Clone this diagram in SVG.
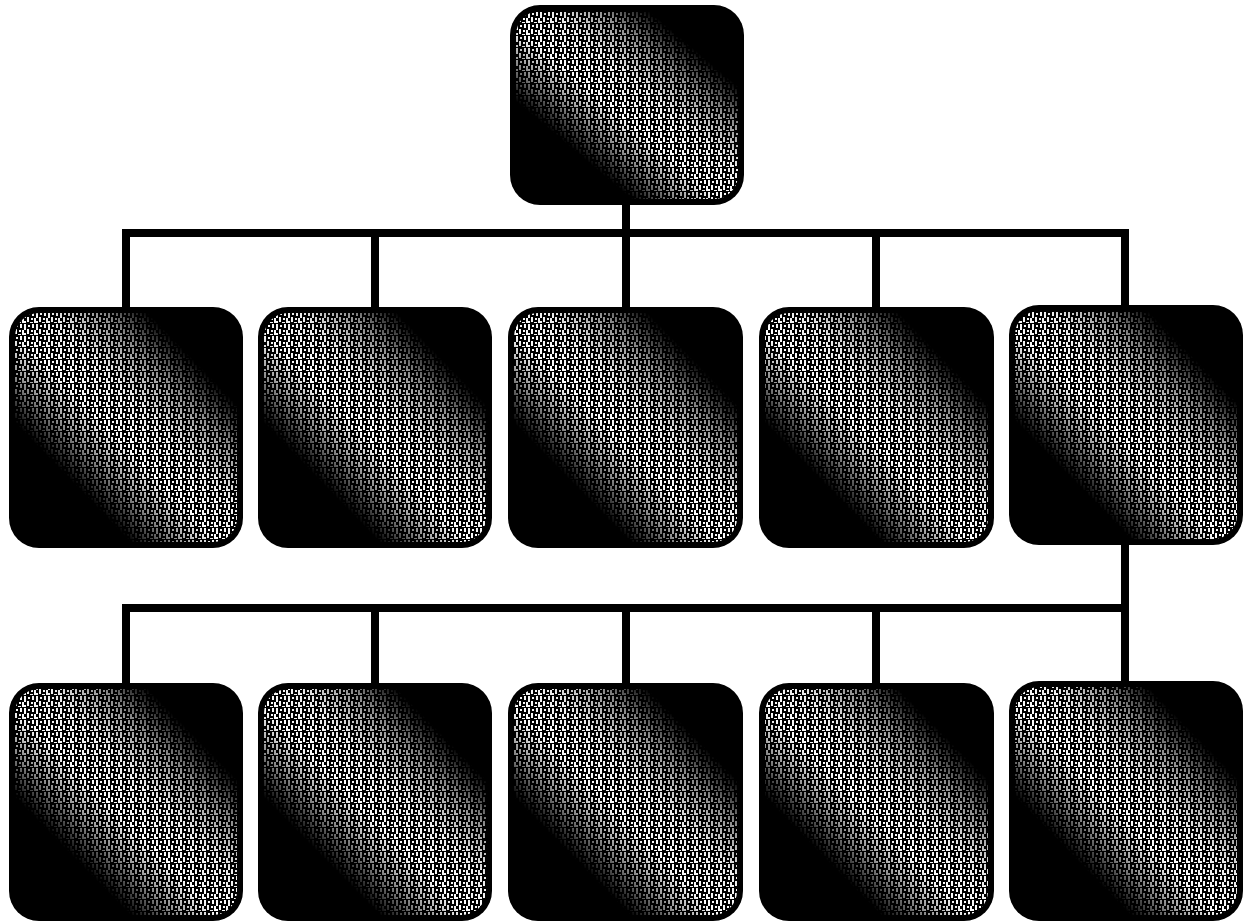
<svg xmlns="http://www.w3.org/2000/svg" width="1250" height="924" viewBox="0 0 1250 924">
  <defs>
    <linearGradient id="band" x1="0" y1="1" x2="1" y2="0">
      <stop offset="0" stop-color="#000"/>
      <stop offset="0.26" stop-color="#000"/>
      <stop offset="0.36" stop-color="#888"/>
      <stop offset="0.46" stop-color="#fff"/>
      <stop offset="0.58" stop-color="#eee"/>
      <stop offset="0.7" stop-color="#888"/>
      <stop offset="0.8" stop-color="#000"/>
      <stop offset="1" stop-color="#000"/>
    </linearGradient>
    <pattern id="dots" width="12" height="12" patternUnits="userSpaceOnUse">
      <rect width="12" height="12" fill="#000"/>
      <rect x="0" y="0" width="2" height="6" fill="#fff"/>
      <rect x="4" y="1" width="2" height="2" fill="#fff"/>
      <rect x="8" y="0" width="2" height="4" fill="#fff"/>
      <rect x="3" y="5" width="2" height="5" fill="#fff"/>
      <rect x="7" y="6" width="2" height="2" fill="#fff"/>
      <rect x="10" y="6" width="2" height="5" fill="#fff"/>
      <rect x="0" y="9" width="2" height="2" fill="#fff"/>
      <rect x="6" y="10" width="3" height="1" fill="#fff"/>
    </pattern>
    <mask id="bandMask" maskContentUnits="objectBoundingBox">
      <rect width="1" height="1" fill="url(#band)"/>
    </mask>
  </defs>
  <style>
    .box { fill: #000; }
    .tex { fill: url(#dots); }
    .conn { stroke: #000; stroke-width: 8; fill: none; stroke-linecap: square; }
  </style>
  <rect width="1250" height="924" fill="#fff"/>

  <g id="connectors">
    <path class="conn" d="M626 200 V233"/>
    <path class="conn" d="M126 233 H1125"/>
    <path class="conn" d="M126 233 V310 M375 233 V310 M626 233 V310 M876 233 V310 M1125 233 V310"/>
    <path class="conn" d="M1125 540 V608"/>
    <path class="conn" d="M126 608 H1125"/>
    <path class="conn" d="M126 608 V686 M375 608 V686 M626 608 V686 M876 608 V686 M1125 608 V686"/>
  </g>

  <g id="root">
    <rect class="box" x="510" y="5" width="234" height="200" rx="30"/>
    <rect class="tex" x="516" y="11" width="222" height="188" rx="24" mask="url(#bandMask)"/>
  </g>

  <g id="n1">
    <rect class="box" x="9" y="307" width="234" height="241" rx="30"/>
    <rect class="tex" x="15" y="313" width="222" height="229" rx="24" mask="url(#bandMask)"/>
  </g>
  <g id="n2">
    <rect class="box" x="258" y="307" width="234" height="241" rx="30"/>
    <rect class="tex" x="264" y="313" width="222" height="229" rx="24" mask="url(#bandMask)"/>
  </g>
  <g id="n3">
    <rect class="box" x="508" y="307" width="235" height="241" rx="30"/>
    <rect class="tex" x="514" y="313" width="223" height="229" rx="24" mask="url(#bandMask)"/>
  </g>
  <g id="n4">
    <rect class="box" x="759" y="307" width="235" height="241" rx="30"/>
    <rect class="tex" x="765" y="313" width="223" height="229" rx="24" mask="url(#bandMask)"/>
  </g>
  <g id="n5">
    <rect class="box" x="1009" y="305" width="234" height="240" rx="30"/>
    <rect class="tex" x="1015" y="311" width="222" height="228" rx="24" mask="url(#bandMask)"/>
  </g>

  <g id="m1">
    <rect class="box" x="9" y="683" width="234" height="238" rx="30"/>
    <rect class="tex" x="15" y="689" width="222" height="226" rx="24" mask="url(#bandMask)"/>
  </g>
  <g id="m2">
    <rect class="box" x="258" y="683" width="234" height="238" rx="30"/>
    <rect class="tex" x="264" y="689" width="222" height="226" rx="24" mask="url(#bandMask)"/>
  </g>
  <g id="m3">
    <rect class="box" x="508" y="683" width="235" height="238" rx="30"/>
    <rect class="tex" x="514" y="689" width="223" height="226" rx="24" mask="url(#bandMask)"/>
  </g>
  <g id="m4">
    <rect class="box" x="759" y="683" width="235" height="238" rx="30"/>
    <rect class="tex" x="765" y="689" width="223" height="226" rx="24" mask="url(#bandMask)"/>
  </g>
  <g id="m5">
    <rect class="box" x="1009" y="681" width="234" height="240" rx="30"/>
    <rect class="tex" x="1015" y="687" width="222" height="228" rx="24" mask="url(#bandMask)"/>
  </g>
</svg>
